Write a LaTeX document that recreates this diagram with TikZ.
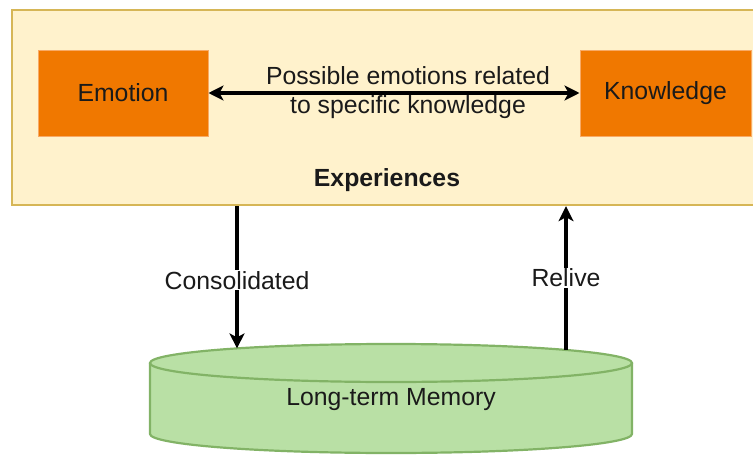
\documentclass[tikz,border=0pt]{standalone}
\usepackage{fontspec}
\setmainfont{Liberation Sans}
\usetikzlibrary{arrows.meta}
\definecolor{expfill}{HTML}{FFF2CC}
\definecolor{expline}{HTML}{D6B656}
\definecolor{orangefill}{HTML}{F07800}
\definecolor{orangeline}{HTML}{F8AA66}
\definecolor{memfill}{HTML}{B9E0A5}
\definecolor{memline}{HTML}{82B366}
\definecolor{ink}{HTML}{1A1A1A}
\tikzset{
  headtip/.tip={Stealth[length=15pt, width=15pt, inset=4pt]},
  orangebox/.style={draw=orangeline, fill=orangefill, line width=1pt,
    minimum width=170pt, minimum height=86pt, inner sep=0pt, text=ink},
  link/.style={line width=3.2pt, draw=black},
  lbl/.style={fill=white, inner sep=1pt, text=ink}
}
\begin{document}
\begin{tikzpicture}[x=1pt, y=-1pt, font=\fontsize{24.8}{29.4}\selectfont]
\useasboundingbox (0,0) rectangle (753,455);

% experiences container
\node[draw=expline, fill=expfill, line width=2.2pt, minimum width=748pt,
  minimum height=195pt, inner sep=0pt, anchor=north west] (exp) at (11,9) {};
\node[font=\fontsize{24.8}{29.4}\selectfont\bfseries, text=ink] (explabel) at (387,180) {Experiences};

% emotion and knowledge
\node[orangebox] (emotion) at (123,93) {Emotion};
\node[orangebox, minimum width=171pt] (knowledge) at (665.5,93) {Knowledge};
\draw[link, headtip-headtip] (emotion.east) -- (knowledge.west);
\node[align=center, text=ink] (relation) at (408,92.5) {Possible emotions related\\to specific knowledge};

% long-term memory cylinder
\fill[memfill] (150,363) -- (150,434)
  arc[start angle=180, end angle=360, x radius=241pt, y radius=19pt]
  -- (632,363)
  arc[start angle=0, end angle=180, x radius=241pt, y radius=19pt] -- cycle;
\draw[memline, line width=2.2pt] (150,363) -- (150,434)
  arc[start angle=180, end angle=360, x radius=241pt, y radius=19pt]
  -- (632,363);
\draw[memline, line width=2.2pt] (391,363) ellipse[x radius=241pt, y radius=19pt];
\node[text=ink] (mem) at (391,400) {Long-term Memory};

% points where the connectors meet the top of the cylinder
\coordinate (consIn) at (237,348.4);
\coordinate (reliveOut) at (566,350);

\draw[link, -headtip] (exp.south -| consIn) -- node[lbl, pos=0.52] {Consolidated} (consIn);
\draw[link, -headtip] (reliveOut) -- node[lbl, pos=0.5] {Relive} (exp.south -| reliveOut);
\end{tikzpicture}
\end{document}
